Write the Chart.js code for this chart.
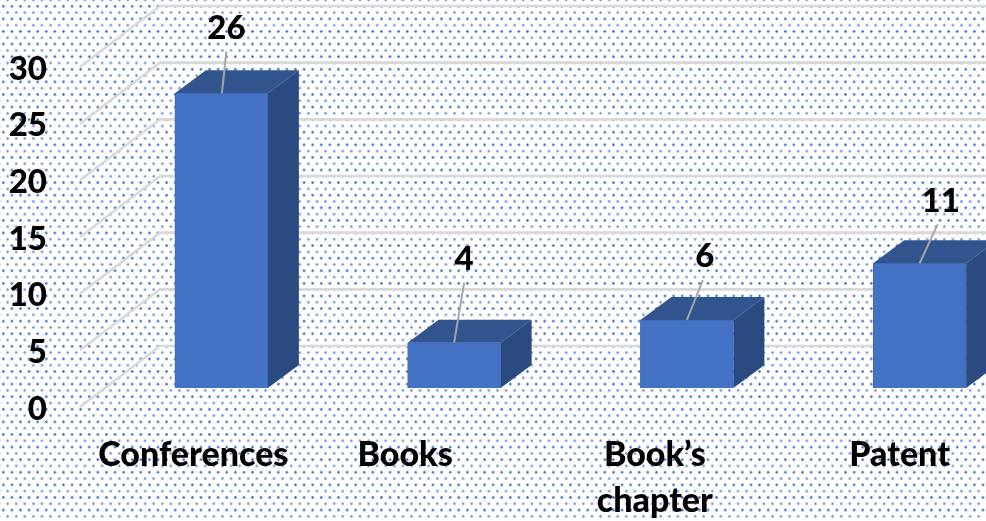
<!DOCTYPE html>
<html>
<head>
<meta charset="utf-8">
<style>
html,body{margin:0;padding:0;width:986px;height:521px;overflow:hidden;background-color:#fff;}
body{background-image:radial-gradient(circle,#3f6cc4 0.9px,rgba(68,114,196,0.25) 1.4px,transparent 1.9px),radial-gradient(circle,#7596d6 0.9px,rgba(68,114,196,0.2) 1.4px,transparent 1.9px);background-size:8.6px 12.6px;background-position:-1px 0px,3.3px 6.3px;}
#wrap{position:absolute;left:0;top:0;width:986px;height:521px;overflow:hidden;}
canvas{display:block;}
</style>
</head>
<body>
<div id="wrap"><canvas id="c" width="1040" height="521" style="width:1040px;height:521px"></canvas></div>
<script src="https://cdn.jsdelivr.net/npm/chart.js@4"></script>
<script>
const categories = ["Conferences", "Books", ["Book\u2019s", "chapter"], "Patent"];
const values = [26, 4, 6, 11];
const yTicks = [0, 5, 10, 15, 20, 25, 30];

const FONT_FAMILY = 'Lato, "Noto Sans", sans-serif';
const FONT = '900 33px ' + FONT_FAMILY;
const labelShift = [-28, -49, -32, -20];
const leaderFrom = [[0.5, 0], [0, 0], [0, 0], [0, 0]];
const leaderTo = [[5, -42], [10, -60], [16, -40], [18, -39]];
const valueAt = [[5, -65], [10, -83], [18, -64], [21, -62]];
const BAR_LIFT = 19, DEPTH_X = 31, DEPTH_Y = 23, GRID_X = 80, GRID_Y = 61, GRID_LEFT = 80;
const PLOT_TOP = 67, PLOT_BOTTOM = 407, Y_LABEL_DROP = 2;

const pseudo3D = {
  id: 'pseudo3D',
  afterLayout(chart) {
    const y = chart.scales.y;
    y.top = PLOT_TOP;
    y.bottom = PLOT_BOTTOM;
    y.height = PLOT_BOTTOM - PLOT_TOP;
    y.configure();
    chart.chartArea.top = PLOT_TOP;
    chart.chartArea.bottom = PLOT_BOTTOM;
    chart.chartArea.height = PLOT_BOTTOM - PLOT_TOP;
  },
  beforeDraw(chart) {
    const xItems = chart.scales.x.getLabelItems(chart.chartArea);
    if (!xItems._shifted) {
      xItems.forEach((it, i) => { it.options.translation[0] += labelShift[i]; });
      xItems._shifted = true;
    }
    const yItems = chart.scales.y.getLabelItems(chart.chartArea);
    if (!yItems._shifted) {
      yItems.forEach(it => { it.options.translation[1] += Y_LABEL_DROP; });
      yItems._shifted = true;
    }
  },
  beforeDatasetsDraw(chart) {
    const { ctx, scales: { y } } = chart;
    ctx.save();
    ctx.strokeStyle = '#d9d9d9';
    ctx.lineWidth = 2.6;
    y.ticks.forEach(t => {
      const py = y.getPixelForValue(t.value);
      ctx.beginPath();
      ctx.moveTo(GRID_LEFT, py);
      ctx.lineTo(GRID_LEFT + GRID_X, py - GRID_Y);
      ctx.lineTo(chart.width, py - GRID_Y);
      ctx.stroke();
    });
    ctx.restore();
    ctx.save();
    ctx.translate(0, -BAR_LIFT);
    chart.getDatasetMeta(0).data.forEach(bar => {
      const l = bar.x - bar.width / 2, r = bar.x + bar.width / 2;
      ctx.fillStyle = '#33558f';
      ctx.beginPath();
      ctx.moveTo(l, bar.y); ctx.lineTo(l + DEPTH_X, bar.y - DEPTH_Y);
      ctx.lineTo(r + DEPTH_X, bar.y - DEPTH_Y); ctx.lineTo(r, bar.y);
      ctx.closePath(); ctx.fill();
      ctx.fillStyle = '#2a4a80';
      ctx.beginPath();
      ctx.moveTo(r, bar.y); ctx.lineTo(r + DEPTH_X, bar.y - DEPTH_Y);
      ctx.lineTo(r + DEPTH_X, bar.base - DEPTH_Y); ctx.lineTo(r, bar.base);
      ctx.closePath(); ctx.fill();
    });
  },
  afterDatasetsDraw(chart) {
    const { ctx } = chart;
    ctx.restore();
    ctx.save();
    ctx.font = FONT;
    ctx.fillStyle = '#000';
    ctx.textAlign = 'center';
    ctx.textBaseline = 'middle';
    chart.getDatasetMeta(0).data.forEach((bar, i) => {
      const topY = bar.y - BAR_LIFT;
      ctx.strokeStyle = '#a6a6a6';
      ctx.lineWidth = 2;
      ctx.beginPath();
      ctx.moveTo(bar.x + leaderFrom[i][0], topY + leaderFrom[i][1]);
      ctx.lineTo(bar.x + leaderTo[i][0], topY + leaderTo[i][1]);
      ctx.stroke();
      ctx.fillText(String(values[i]), bar.x + valueAt[i][0], topY + valueAt[i][1]);
    });
    ctx.restore();
  }
};

new Chart(document.getElementById('c'), {
  type: 'bar',
  data: {
    labels: categories,
    datasets: [{
      data: values,
      backgroundColor: '#4472c4',
      borderColor: '#3f69b5',
      borderWidth: 1,
      barThickness: 93,
      clip: false
    }]
  },
  plugins: [pseudo3D],
  options: {
    responsive: false,
    animation: false,
    events: [],
    layout: { autoPadding: false, padding: { top: 59, right: 4, left: 0, bottom: 0 } },
    plugins: { legend: { display: false }, tooltip: { enabled: false }, title: { display: false } },
    scales: {
      x: {
        grid: { display: false },
        border: { display: false },
        afterFit(s) { s.height = 113; },
        ticks: {
          color: '#000',
          font: { family: FONT_FAMILY, size: 34, weight: 900, lineHeight: 1.35 },
          autoSkip: false,
          maxRotation: 0,
          minRotation: 0,
          padding: 16
        }
      },
      y: {
        min: 0,
        max: 30,
        grid: { display: false, drawTicks: false },
        border: { display: false },
        afterFit(s) { s.width = 105; },
        afterBuildTicks(s) { s.ticks = yTicks.map(v => ({ value: v })); },
        ticks: {
          color: '#000',
          font: { family: FONT_FAMILY, size: 33, weight: 900 },
          padding: 58
        }
      }
    }
  }
});
</script>
</body>
</html>
